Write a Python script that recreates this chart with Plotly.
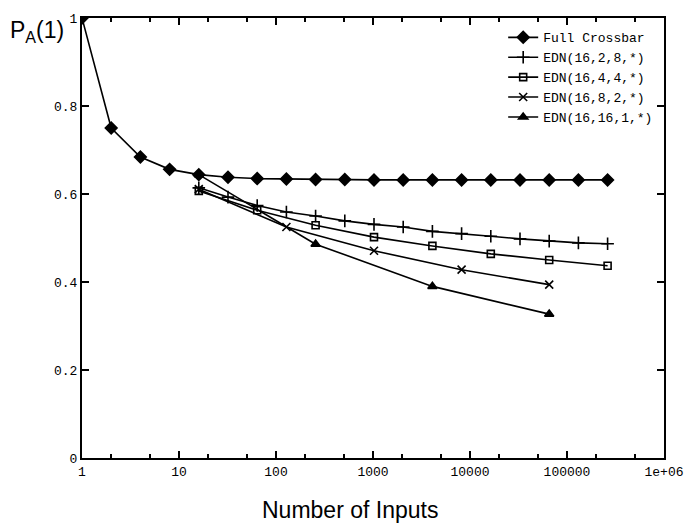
import plotly.graph_objects as go

# ---- data ----
crossbar_n = [1, 2, 4, 8, 16, 32, 64, 128, 256, 512, 1024, 2048, 4096, 8192,
              16384, 32768, 65536, 131072, 262144]
crossbar_p = [1.0, 0.75, 0.684, 0.656, 0.644, 0.638, 0.635, 0.634, 0.633, 0.633,
              0.632, 0.632, 0.632, 0.632, 0.632, 0.632, 0.632, 0.632, 0.632]

edn_2_8_n = [16, 32, 64, 128, 256, 512, 1024, 2048, 4096, 8192, 16384, 32768,
             65536, 131072, 262144]
edn_2_8_p = [0.614, 0.593, 0.574, 0.559, 0.550, 0.539, 0.531, 0.525, 0.515,
             0.510, 0.504, 0.498, 0.493, 0.489, 0.487]

edn_4_4_n = [16, 64, 256, 1024, 4096, 16384, 65536, 262144]
edn_4_4_p = [0.607, 0.563, 0.529, 0.502, 0.482, 0.464, 0.450, 0.437]

edn_8_2_n = [16, 128, 1024, 8192, 65536]
edn_8_2_p = [0.611, 0.525, 0.471, 0.428, 0.394]

edn_16_1_n = [16, 256, 4096, 65536]
edn_16_1_p = [0.644, 0.486, 0.390, 0.327]

x_tick_vals = [1, 10, 100, 1000, 10000, 100000, 1000000]
x_tick_text = ["1", "10", "100", "1000", "10000", "100000", "1e+06"]
y_tick_vals = [0, 0.2, 0.4, 0.6, 0.8, 1]
y_tick_text = ["0", "0.2", "0.4", "0.6", "0.8", "1"]

series = [
    ("Full Crossbar", crossbar_n, crossbar_p, "diamond", 9),
    ("EDN(16,2,8,*)", edn_2_8_n, edn_2_8_p, "cross-thin", 9),
    ("EDN(16,4,4,*)", edn_4_4_n, edn_4_4_p, "square-open", 7),
    ("EDN(16,8,2,*)", edn_8_2_n, edn_8_2_p, "x-thin", 8),
    ("EDN(16,16,1,*)", edn_16_1_n, edn_16_1_p, "triangle-up", 8),
]

mono = "Liberation Mono, Courier New, monospace"
sans = "Liberation Sans Narrow, Liberation Sans, Arial, sans-serif"

fig = go.Figure()
for name, xs, ys, sym, sz in series:
    fig.add_trace(go.Scatter(
        x=xs, y=ys, name=name, mode="lines+markers",
        line=dict(color="black", width=1.6),
        marker=dict(symbol=sym, size=sz, color="black",
                    line=dict(color="black", width=1.6)),
    ))

fig.update_layout(
    width=696, height=527,
    margin=dict(l=82, r=23, t=14, b=69),
    paper_bgcolor="white", plot_bgcolor="white",
    showlegend=True,
    legend=dict(x=0.99, y=0.99, xanchor="right", yanchor="top",
                font=dict(family=mono, size=13, color="black"),
                bgcolor="rgba(0,0,0,0)", itemwidth=30, tracegroupgap=0),
    font=dict(family=mono, size=13, color="black"),
)
fig.update_xaxes(
    type="log", range=[0, 6],
    tickvals=x_tick_vals, ticktext=x_tick_text,
    ticks="inside", ticklen=7, tickwidth=1.5, tickcolor="black",
    minor=dict(ticks="inside", ticklen=4, tickcolor="black", showgrid=False),
    showline=True, linecolor="black", linewidth=2, mirror="allticks",
    showgrid=False, zeroline=False,
    tickfont=dict(family=mono, size=13, color="black"),
)
fig.update_yaxes(
    range=[0, 1],
    tickvals=y_tick_vals, ticktext=y_tick_text,
    ticks="inside", ticklen=7, tickwidth=1.5, tickcolor="black",
    showline=True, linecolor="black", linewidth=2, mirror="allticks",
    showgrid=False, zeroline=False,
    tickfont=dict(family=mono, size=13, color="black"),
)
fig.add_annotation(
    text="P<sub>A</sub>(1)", xref="paper", yref="paper",
    x=-0.128, y=0.97, xanchor="left", yanchor="middle", showarrow=False,
    font=dict(family=sans, size=23, color="black"),
)
fig.add_annotation(
    text="Number of Inputs", xref="paper", yref="paper",
    x=0.46, y=-0.118, xanchor="center", yanchor="middle", showarrow=False,
    font=dict(family=sans, size=23, color="black"),
)
fig.write_html(
    "out.html",
    config={"displayModeBar": False},
    post_script="document.body.style.margin='0';document.body.style.overflow='hidden';",
)
